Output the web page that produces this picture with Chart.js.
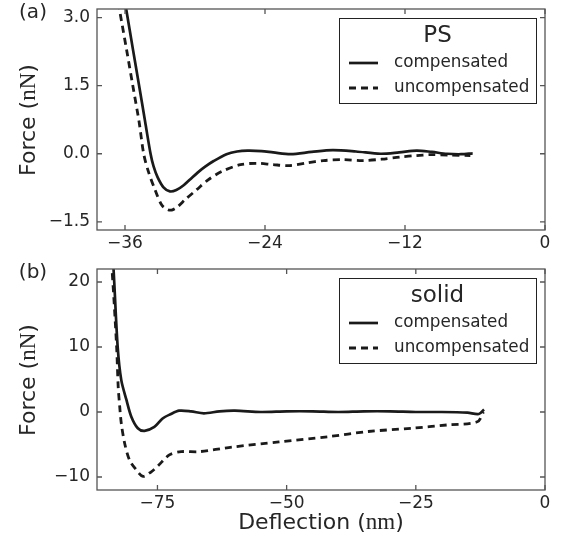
<!DOCTYPE html>
<html>
<head>
<meta charset="utf-8">
<script src="https://cdn.jsdelivr.net/npm/chart.js@4.4.1/dist/chart.umd.min.js"></script>
<style>
  html, body { margin: 0; padding: 0; background: #fff; }
  #wrap { position: relative; width: 562px; height: 543px; }
  canvas { position: absolute; left: 0; }
  #chart-a { top: 0; }
  #chart-b { top: 262px; }
</style>
</head>
<body>
<div id="wrap">
  <canvas id="chart-a" width="562" height="262"></canvas>
  <canvas id="chart-b" width="562" height="281"></canvas>
</div>
<script>
// (a) PS
const psXTicks = [-36, -24, -12, 0];
const psYTicks = [-1.5, 0, 1.5, 3];
const psCompX = [-36.2, -35.9, -35.32, -34.79, -34.27, -33.81, -33.55, -33.2, -32.7, -32.15, -31.6, -31.0, -30.4, -29.75, -29.1, -28.4, -27.3, -26.4, -25.5, -24.3, -23.3, -21.8, -20.0, -18.2, -16.2, -14.1, -12.5, -11.0, -9.7, -8.4, -7.2, -6.2];
const psCompY = [3.6, 3.19, 2.3, 1.5, 0.7, 0.0, -0.28, -0.52, -0.74, -0.83, -0.8, -0.7, -0.56, -0.41, -0.28, -0.16, -0.01, 0.05, 0.07, 0.06, 0.03, -0.01, 0.04, 0.08, 0.05, 0.0, 0.03, 0.07, 0.04, 0.0, -0.01, 0.01];
const psUncX = [-36.75, -36.48, -35.87, -35.33, -34.79, -34.4, -34.0, -33.43, -32.85, -32.35, -32.0, -31.5, -30.8, -29.85, -28.85, -27.7, -26.1, -24.7, -23.3, -21.9, -20.4, -19.0, -17.3, -15.6, -14.0, -12.4, -11.0, -9.9, -8.2, -6.4];
const psUncY = [3.6, 3.19, 2.3, 1.5, 0.7, 0.0, -0.39, -0.79, -1.13, -1.23, -1.24, -1.17, -1.0, -0.79, -0.57, -0.39, -0.24, -0.21, -0.24, -0.26, -0.2, -0.15, -0.13, -0.15, -0.12, -0.07, -0.04, -0.02, -0.03, -0.04];

// (b) solid
const solidXTicks = [-75, -50, -25, 0];
const solidYTicks = [-10, 0, 10, 20];
const solidCompX = [-83.8, -83.5, -82.7, -82.0, -81.0, -80.06, -78.8, -77.5, -75.6, -74.0, -72.5, -70.8, -68.5, -66.0, -63.0, -60.0, -55.0, -50.0, -45.0, -40.0, -35.0, -30.0, -25.0, -20.0, -15.0, -12.8, -11.8];
const solidCompY = [25, 22, 10, 4.9, 1.85, -0.72, -2.5, -2.9, -2.3, -1.0, -0.35, 0.2, 0.1, -0.2, 0.1, 0.2, 0.0, 0.1, 0.1, 0.0, 0.1, 0.1, 0.0, 0.0, -0.1, -0.3, 0.4];
const solidUncX = [-84.2, -83.8, -82.9, -82.6, -82.3, -82.0, -81.35, -80.4, -79.1, -77.8, -76.2, -74.9, -72.7, -70.4, -66.9, -60.6, -51.5, -42.0, -34.2, -25.8, -19.0, -13.1, -11.9];
const solidUncY = [25, 22, 10, 3.9, 0.8, -1.74, -4.8, -7.4, -8.9, -9.9, -9.2, -8.3, -6.6, -6.1, -6.1, -5.4, -4.6, -3.8, -3.0, -2.5, -2.0, -1.5, 0.0];

const LINE = '#1a1a1a';
const TEXT = '#262626';
const SPINE = '#555';

function zip(xs, ys) {
  return xs.map((x, i) => ({ x: x, y: ys[i] }));
}

function fmtMinus(v, digits) {
  const s = digits ? Math.abs(v).toFixed(digits) : String(Math.abs(v));
  return v < 0 ? '\u2212' + s : s;
}

function drawMixed(ctx, parts, cx, cy, angle) {
  ctx.save();
  ctx.translate(cx, cy);
  ctx.rotate(angle);
  ctx.textAlign = 'left';
  ctx.textBaseline = 'middle';
  let total = 0;
  parts.forEach(p => { ctx.font = p.font; total += ctx.measureText(p.text).width; });
  let x = -total / 2;
  parts.forEach(p => {
    ctx.font = p.font;
    ctx.fillText(p.text, x, 0);
    x += ctx.measureText(p.text).width;
  });
  ctx.restore();
}

// frame on all four sides with inward ticks
const frameTicks = {
  id: 'frameTicks',
  afterDraw(chart) {
    const { ctx, chartArea: a } = chart;
    const x = chart.scales.x, y = chart.scales.y;
    const len = 5;
    ctx.save();
    ctx.strokeStyle = SPINE;
    ctx.lineWidth = 1.3;
    ctx.strokeRect(a.left, a.top, a.right - a.left, a.bottom - a.top);
    ctx.beginPath();
    x.ticks.forEach(t => {
      const px = x.getPixelForValue(t.value);
      ctx.moveTo(px, a.bottom); ctx.lineTo(px, a.bottom - len);
      ctx.moveTo(px, a.top); ctx.lineTo(px, a.top + len);
    });
    y.ticks.forEach(t => {
      const py = y.getPixelForValue(t.value);
      ctx.moveTo(a.left, py); ctx.lineTo(a.left + len, py);
      ctx.moveTo(a.right, py); ctx.lineTo(a.right - len, py);
    });
    ctx.stroke();
    ctx.restore();
  }
};

// boxed legend with a title, drawn inside the axes
const boxLegend = {
  id: 'boxLegend',
  afterDraw(chart, args, opts) {
    const ctx = chart.ctx;
    const b = opts.box;
    ctx.save();
    ctx.fillStyle = '#fff';
    ctx.fillRect(b.left, b.top, b.width, b.height);
    ctx.strokeStyle = '#222';
    ctx.lineWidth = 1;
    ctx.strokeRect(b.left + 0.5, b.top + 0.5, b.width, b.height);
    ctx.fillStyle = TEXT;
    ctx.font = '23px "DejaVu Sans"';
    ctx.textAlign = 'center';
    ctx.textBaseline = 'middle';
    ctx.fillText(opts.title, b.left + b.width / 2, b.top + 18);
    chart.data.datasets.forEach((ds, i) => {
      const yy = b.top + 45 + i * 25;
      ctx.beginPath();
      ctx.setLineDash(ds.borderDash || []);
      ctx.lineWidth = ds.borderWidth;
      ctx.strokeStyle = ds.borderColor;
      ctx.moveTo(b.left + 10, yy);
      ctx.lineTo(b.left + 39, yy);
      ctx.stroke();
      ctx.setLineDash([]);
      ctx.font = '16.8px "DejaVu Sans"';
      ctx.textAlign = 'left';
      ctx.fillText(ds.label, b.left + 55, yy);
    });
    ctx.restore();
  }
};

// panel letter and axis titles
const axisText = {
  id: 'axisText',
  afterDraw(chart, args, opts) {
    const ctx = chart.ctx;
    ctx.save();
    ctx.fillStyle = TEXT;
    ctx.font = '20px "DejaVu Sans"';
    ctx.textAlign = 'center';
    ctx.textBaseline = 'middle';
    ctx.fillText(opts.panel, 33, opts.panelY);
    const sans = '22px "DejaVu Sans"', serif = '23px "Liberation Serif"';
    drawMixed(ctx, [{ text: 'Force (', font: sans }, { text: 'nN', font: serif }, { text: ')', font: sans }],
      29, opts.yTitleY, -Math.PI / 2);
    if (opts.xTitle) {
      drawMixed(ctx, [{ text: 'Deflection (', font: sans }, { text: 'nm', font: serif }, { text: ')', font: sans }],
        321, opts.xTitleY, 0);
    }
    ctx.restore();
  }
};

function datasets(cx, cy, ux, uy) {
  return [{
    label: 'compensated',
    data: zip(cx, cy),
    borderColor: LINE,
    borderWidth: 2.7,
    pointRadius: 0,
    tension: 0.3,
    fill: false
  }, {
    label: 'uncompensated',
    data: zip(ux, uy),
    borderColor: LINE,
    borderWidth: 2.8,
    borderDash: [7, 5],
    pointRadius: 0,
    tension: 0.3,
    fill: false
  }];
}

function makeOptions(cfg) {
  const tickFont = { family: 'DejaVu Sans', size: 17 };
  return {
    responsive: false,
    animation: false,
    events: [],
    layout: { padding: { top: cfg.padTop, right: 17, left: 0, bottom: 0 } },
    plugins: {
      legend: { display: false },
      tooltip: { enabled: false },
      boxLegend: { title: cfg.title, box: { left: 339, top: cfg.legendTop, width: 197, height: 85 } },
      axisText: cfg.text
    },
    scales: {
      x: {
        type: 'linear',
        min: cfg.xMin,
        max: 0,
        grid: { display: false, drawTicks: false },
        border: { display: false },
        afterFit: s => { s.height = cfg.xHeight; s.paddingLeft = 0; s.paddingRight = 0; },
        afterBuildTicks: s => { s.ticks = cfg.xTicks.map(v => ({ value: v })); },
        ticks: { padding: 3, font: tickFont, color: TEXT, maxRotation: 0, autoSkip: false,
                 callback: v => fmtMinus(v, 0) }
      },
      y: {
        type: 'linear',
        min: cfg.yMin,
        max: cfg.yMax,
        grid: { display: false, drawTicks: false },
        border: { display: false },
        afterFit: s => { s.width = 97; s.paddingTop = 0; s.paddingBottom = 0; },
        afterBuildTicks: s => { s.ticks = cfg.yTicks.map(v => ({ value: v })); },
        ticks: { padding: 7, font: tickFont, color: TEXT, autoSkip: false,
                 callback: v => fmtMinus(v, cfg.yDigits) }
      }
    }
  };
}

new Chart(document.getElementById('chart-a'), {
  type: 'line',
  data: { datasets: datasets(psCompX, psCompY, psUncX, psUncY) },
  options: makeOptions({
    padTop: 9, xHeight: 32, xMin: -38.4, yMin: -1.68, yMax: 3.19,
    xTicks: psXTicks, yTicks: psYTicks, yDigits: 1,
    title: 'PS', legendTop: 18,
    text: { panel: '(a)', panelY: 13, yTitleY: 120 }
  }),
  plugins: [frameTicks, boxLegend, axisText]
});

new Chart(document.getElementById('chart-b'), {
  type: 'line',
  data: { datasets: datasets(solidCompX, solidCompY, solidUncX, solidUncY) },
  options: makeOptions({
    padTop: 7, xHeight: 53, xMin: -86.7, yMin: -12, yMax: 22,
    xTicks: solidXTicks, yTicks: solidYTicks, yDigits: 0,
    title: 'solid', legendTop: 16,
    text: { panel: '(b)', panelY: 10.5, yTitleY: 118, xTitle: true, xTitleY: 261 }
  }),
  plugins: [frameTicks, boxLegend, axisText]
});
</script>
</body>
</html>
